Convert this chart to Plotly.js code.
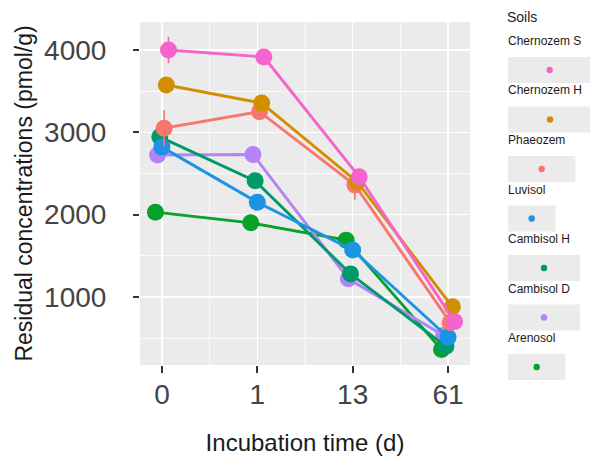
<!DOCTYPE html>
<html>
<head>
<meta charset="utf-8">
<script src="https://cdn.plot.ly/plotly-3.0.1.min.js"></script>
<style>html,body{margin:0;padding:0;background:#fff;}#chart{width:590px;height:456px;}</style>
</head>
<body>
<div id="chart"></div>
<script>
// ---- data ----
const timeLabels = ['0', '1', '13', '61'];
const soils = ['Chernozem S', 'Chernozem H', 'Phaeozem', 'Luvisol', 'Cambisol H', 'Cambisol D', 'Arenosol'];
const chernozemS = [4000, 3915, 2460, 700];
const chernozemH = [3575, 3355, 2400, 880];
const phaeozem   = [3050, 3250, 2360, 690];
const luvisol    = [2820, 2150, 1570, 510];
const cambisolH  = [2945, 2410, 1280, 400];
const cambisolD  = [2725, 2730, 1220, 530];
const arenosol   = [2030, 1900, 1690, 360];
const errChernozemS = [160, 40, 60, 60];
const errChernozemH = [40, 40, 40, 40];
const errPhaeozem   = [220, 60, 180, 60];
const errLuvisol    = [40, 40, 40, 40];
const errCambisolH  = [40, 40, 40, 40];
const errCambisolD  = [40, 40, 40, 40];
const errArenosol   = [40, 40, 40, 40];
const seriesValues = [chernozemS, chernozemH, phaeozem, luvisol, cambisolH, cambisolD, arenosol];
const seriesErrors = [errChernozemS, errChernozemH, errPhaeozem, errLuvisol, errCambisolH, errCambisolD, errArenosol];
const yTicks = [1000, 2000, 3000, 4000];

// ---- style ----
const colors = ['#F564CC', '#D18F00', '#F8766D', '#1C93E3', '#00996A', '#B383F7', '#08A12A'];
const FONT = 'Liberation Sans, Arial, Helvetica, sans-serif';
const W = 590, H = 456;
const M = {l: 140, r: 0, t: 22, b: 91};
const plotRightPx = 470;
const paperW = W - M.l - M.r, paperH = H - M.t - M.b;
const px2x = px => (px - M.l) / paperW;
const px2y = py => (H - M.b - py) / paperH;

// traces: drawn (and dodged) from Arenosol (left) to Chernozem S (right)
const traces = [];
for (let i = soils.length - 1; i >= 0; i--) {
  traces.push({
    type: 'scatter', mode: 'lines+markers',
    name: soils[i], x: timeLabels, y: seriesValues[i],
    line: {color: colors[i], width: 2.9},
    marker: {color: colors[i], size: 17},
    error_y: {type: 'data', array: seriesErrors[i], color: colors[i], thickness: 1.6, width: 0},
    showlegend: false, hoverinfo: 'skip'
  });
}

// minor vertical gridlines between categories
const shapes = [];
for (let k = 0; k < timeLabels.length - 1; k++) {
  shapes.push({type: 'line', xref: 'x', yref: 'paper', x0: k + 0.5, x1: k + 0.5, y0: 0, y1: 1,
    line: {color: '#FFFFFF', width: 0.8}, layer: 'between'});
}

// custom ggplot-style legend (label above a grey key box)
const annotations = [];
annotations.push({xref: 'paper', yref: 'paper', x: px2x(505), y: px2y(17), xanchor: 'left', yanchor: 'middle',
  text: 'Soils', showarrow: false, font: {family: FONT, size: 14, color: '#1A1A1A'}});
const ctx = document.createElement('canvas').getContext('2d');
ctx.font = '12px "Liberation Sans"';
const legTop = 70, legStep = 49.5, boxLeft = 508;
soils.forEach((s, i) => {
  const cy = legTop + i * legStep;
  const w = ctx.measureText(s).width + 10;
  shapes.push({type: 'rect', xref: 'paper', yref: 'paper', x0: px2x(boxLeft), x1: px2x(boxLeft + w),
    y0: px2y(cy + 13), y1: px2y(cy - 13), fillcolor: '#EBEBEB', line: {width: 0}, layer: 'above'});
  shapes.push({type: 'circle', xref: 'paper', yref: 'paper', xsizemode: 'pixel', ysizemode: 'pixel',
    xanchor: px2x(boxLeft + w / 2), yanchor: px2y(cy), x0: -3.2, x1: 3.2, y0: -3.2, y1: 3.2,
    fillcolor: colors[i], line: {width: 0}, layer: 'above'});
  annotations.push({xref: 'paper', yref: 'paper', x: px2x(boxLeft - 2), y: px2y(cy - 29), xanchor: 'left', yanchor: 'middle',
    text: s, showarrow: false, font: {family: FONT, size: 12, color: '#1A1A1A'}});
});

const layout = {
  width: W, height: H,
  margin: M,
  paper_bgcolor: '#FFFFFF', plot_bgcolor: '#EBEBEB',
  font: {family: FONT, color: '#1A1A1A'},
  showlegend: false,
  scattermode: 'group', scattergap: 0.84,
  xaxis: {
    type: 'category', domain: [0, px2x(plotRightPx)], range: [-0.23, 3.23],
    showgrid: true, gridcolor: '#FFFFFF', gridwidth: 1.6, zeroline: false, showline: false,
    ticks: 'outside', ticklen: 7, tickwidth: 2.2, tickcolor: '#333333',
    tickfont: {family: FONT, size: 28, color: '#444444'}, ticklabelstandoff: -3,
    title: {text: 'Incubation time (d)', font: {family: FONT, size: 24, color: '#1A1A1A'}, standoff: 38}
  },
  yaxis: {
    range: [173, 4340], tickvals: yTicks, ticktext: yTicks.map(String),
    showgrid: true, gridcolor: '#FFFFFF', gridwidth: 1.6, zeroline: false, showline: false,
    minor: {dtick: 500, showgrid: true, gridcolor: '#FFFFFF', gridwidth: 0.8},
    ticks: 'outside', ticklen: 6, tickwidth: 2.2, tickcolor: '#333333',
    tickfont: {family: FONT, size: 28, color: '#444444'}, ticklabelstandoff: 21,
    title: {text: 'Residual concentrations (pmol/g)', font: {family: FONT, size: 23, color: '#1A1A1A'}, standoff: 5}
  },
  shapes: shapes,
  annotations: annotations
};

Plotly.newPlot('chart', traces, layout, {staticPlot: true, displayModeBar: false});
</script>
</body>
</html>
